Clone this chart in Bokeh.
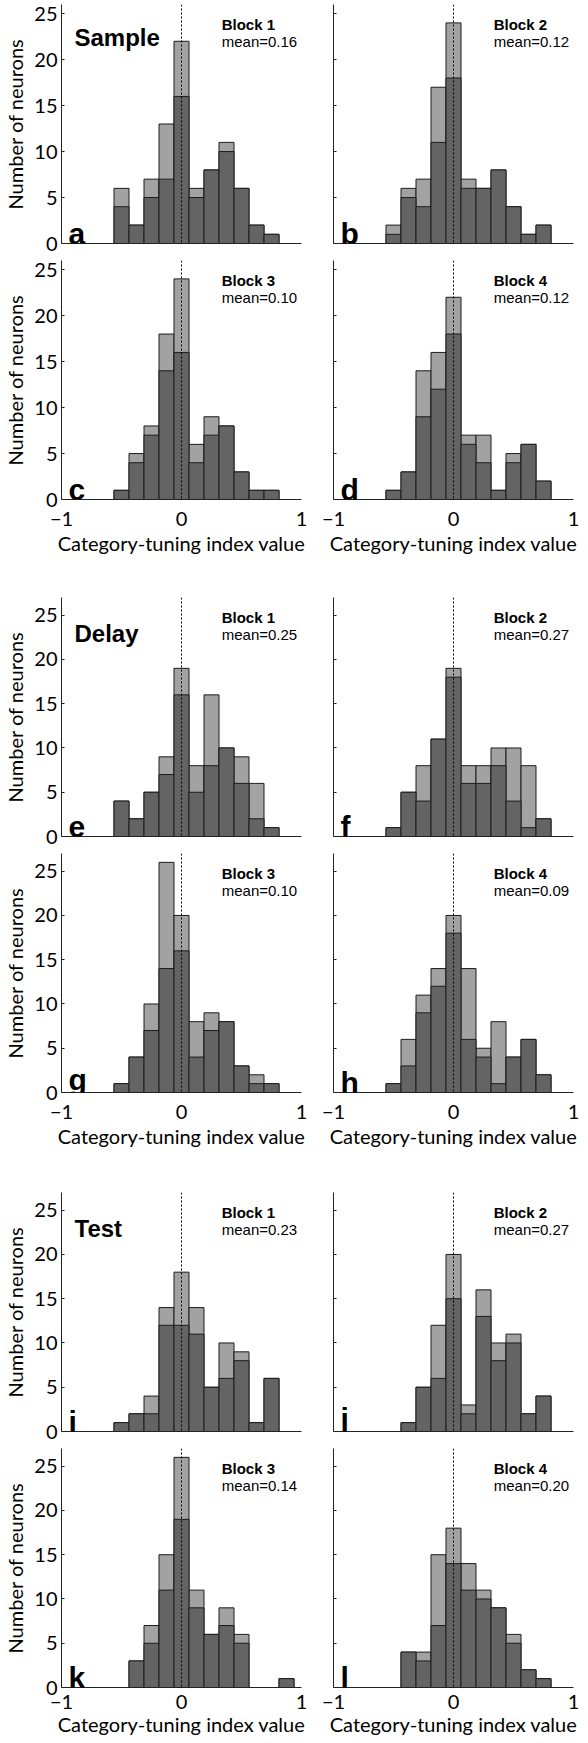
from bokeh.plotting import figure
from bokeh.models import Label, Span, FixedTicker
from bokeh.layouts import column, row
from bokeh.embed import file_html
from bokeh.resources import INLINE

# ---------------- data ----------------
bin_centers = [-0.5, -0.375, -0.25, -0.125, 0.0, 0.125, 0.25, 0.375, 0.5, 0.625, 0.75, 0.875]
bin_width = 0.125

# Sample epoch
sample_b1_all = [6, 2, 7, 13, 22, 6, 8, 11, 6, 2, 1, 0]
sample_b1_sub = [4, 2, 5, 7, 16, 5, 8, 10, 6, 2, 1, 0]
sample_b2_all = [2, 6, 7, 17, 24, 7, 6, 8, 4, 1, 2, 0]
sample_b2_sub = [1, 5, 4, 11, 18, 6, 6, 8, 4, 1, 2, 0]
sample_b3_all = [1, 5, 8, 18, 24, 6, 9, 8, 3, 1, 1, 0]
sample_b3_sub = [1, 4, 7, 14, 16, 4, 7, 8, 3, 1, 1, 0]
sample_b4_all = [1, 3, 14, 16, 22, 7, 7, 1, 5, 6, 2, 0]
sample_b4_sub = [1, 3, 9, 12, 18, 6, 4, 1, 4, 6, 2, 0]

# Delay epoch
delay_b1_all = [4, 2, 5, 9, 19, 8, 16, 10, 9, 6, 1, 0]
delay_b1_sub = [4, 2, 5, 7, 16, 5, 8, 10, 6, 2, 1, 0]
delay_b2_all = [1, 5, 8, 11, 19, 8, 8, 10, 10, 8, 2, 0]
delay_b2_sub = [1, 5, 4, 11, 18, 6, 6, 8, 4, 1, 2, 0]
delay_b3_all = [1, 4, 10, 26, 20, 8, 9, 8, 3, 2, 1, 0]
delay_b3_sub = [1, 4, 7, 14, 16, 4, 7, 8, 3, 1, 1, 0]
delay_b4_all = [1, 6, 11, 14, 20, 14, 5, 8, 4, 6, 2, 0]
delay_b4_sub = [1, 3, 9, 12, 18, 6, 4, 1, 4, 6, 2, 0]

# Test epoch
test_b1_all = [1, 2, 4, 14, 18, 14, 5, 10, 9, 1, 6, 0]
test_b1_sub = [1, 2, 2, 12, 12, 11, 5, 6, 8, 1, 6, 0]
test_b2_all = [0, 1, 5, 12, 20, 3, 16, 10, 11, 2, 4, 0]
test_b2_sub = [0, 1, 5, 6, 15, 2, 13, 8, 10, 2, 4, 0]
test_b3_all = [0, 3, 7, 15, 26, 11, 6, 9, 6, 0, 0, 1]
test_b3_sub = [0, 3, 5, 11, 19, 9, 6, 7, 5, 0, 0, 1]
test_b4_all = [0, 4, 4, 15, 18, 14, 11, 9, 6, 2, 1, 0]
test_b4_sub = [0, 4, 3, 7, 14, 11, 10, 9, 5, 2, 1, 0]

panel_letters = ["a", "b", "c", "d", "e", "f", "g", "h", "i", "j", "k", "l"]
block_labels = ["Block 1", "Block 2", "Block 3", "Block 4"]
mean_labels = ["mean=0.16", "mean=0.12", "mean=0.10", "mean=0.12",
               "mean=0.25", "mean=0.27", "mean=0.10", "mean=0.09",
               "mean=0.23", "mean=0.27", "mean=0.14", "mean=0.20"]
epoch_titles = ["Sample", "Delay", "Test"]
epoch_ymax = [26, 27, 27]
y_ticks = [0, 5, 10, 15, 20, 25]
x_ticks = [-1, 0, 1]
y_label = "Number of neurons"
x_label = "Category-tuning index value"

all_series = [sample_b1_all, sample_b2_all, sample_b3_all, sample_b4_all,
              delay_b1_all, delay_b2_all, delay_b3_all, delay_b4_all,
              test_b1_all, test_b2_all, test_b3_all, test_b4_all]
sub_series = [sample_b1_sub, sample_b2_sub, sample_b3_sub, sample_b4_sub,
              delay_b1_sub, delay_b2_sub, delay_b3_sub, delay_b4_sub,
              test_b1_sub, test_b2_sub, test_b3_sub, test_b4_sub]

# ---------------- style ----------------
LIGHT = "#a2a2a2"
DARK = "#646464"
EDGE = "#1c1c1c"
AXIS = "#222222"
TICK_FONT = "Lato"
TEXT_FONT = "Liberation Sans"
FRAME_W = 240
FRAME_H = 239

row_top_borders = [4, 6, 40, 6, 42, 6]
row_bottom_borders = [11, 55, 11, 55, 11, 45]
row_tick_standoff = [0, 12, 0, 12, 0, 7]
row_label_standoff = [0, 2, 0, 2, 0, 0]


def make_panel(idx):
    r = idx // 2
    is_left = idx % 2 == 0
    is_bottom = r % 2 == 1
    epoch = r // 2
    ymax = epoch_ymax[epoch]

    p = figure(frame_width=FRAME_W, frame_height=FRAME_H,
               x_range=(-1, 1), y_range=(0, ymax),
               output_backend="svg", toolbar_location=None,
               min_border_left=54 if is_left else 16,
               min_border_right=16 if is_left else 6,
               min_border_top=row_top_borders[r],
               min_border_bottom=row_bottom_borders[r])
    p.outline_line_color = None
    p.grid.visible = False
    p.background_fill_color = "white"
    p.border_fill_color = "white"

    # bars: totals (light) then subset (dark) on top
    p.vbar(x=bin_centers, width=bin_width, top=all_series[idx], bottom=0,
           fill_color=LIGHT, line_color=EDGE, line_width=1)
    p.vbar(x=bin_centers, width=bin_width, top=sub_series[idx], bottom=0,
           fill_color=DARK, line_color=EDGE, line_width=1)

    p.add_layout(Span(location=0, dimension="height", line_color="black",
                      line_width=1, line_dash="2 2"))

    # y axis
    ya = p.yaxis[0]
    ya.ticker = FixedTicker(ticks=y_ticks)
    ya.minor_tick_line_color = None
    ya.major_tick_in = 3
    ya.major_tick_out = 0
    ya.axis_line_color = AXIS
    ya.major_tick_line_color = AXIS
    if is_left:
        ya.axis_label = y_label
        ya.axis_label_text_font = TICK_FONT
        ya.axis_label_text_font_size = "20px"
        ya.axis_label_text_font_style = "normal"
        ya.axis_label_text_color = "black"
        ya.axis_label_standoff = 4
        ya.major_label_text_font = TICK_FONT
        ya.major_label_text_font_size = "20px"
        ya.major_label_text_color = "black"
        ya.major_label_standoff = 4
    else:
        ya.major_label_text_font_size = "0px"
        ya.major_label_overrides = {t: "" for t in y_ticks}
        ya.major_label_standoff = 0

    # x axis
    xa = p.xaxis[0]
    xa.minor_tick_line_color = None
    xa.major_tick_in = 0
    xa.major_tick_out = 0
    xa.axis_line_color = AXIS
    if is_bottom:
        xa.ticker = FixedTicker(ticks=x_ticks)
        xa.major_label_text_font = TICK_FONT
        xa.major_label_text_font_size = "20px"
        xa.major_label_text_color = "black"
        xa.major_label_standoff = row_tick_standoff[r]
        xa.axis_label = x_label
        xa.axis_label_text_font = TICK_FONT
        xa.axis_label_text_font_size = "20px"
        xa.axis_label_text_font_style = "normal"
        xa.axis_label_text_color = "black"
        xa.axis_label_standoff = row_label_standoff[r]
    else:
        xa.ticker = FixedTicker(ticks=[])
        xa.major_label_text_font_size = "0px"
        xa.major_label_standoff = 0

    def ypos_from_top(px):
        return ymax * (1 - px / FRAME_H)

    p.add_layout(Label(x=0.335, y=ypos_from_top(20), text=block_labels[idx % 4],
                       text_font=TEXT_FONT, text_font_style="bold",
                       text_font_size="15px", text_color="black",
                       text_baseline="alphabetic"))
    p.add_layout(Label(x=0.335, y=ypos_from_top(37), text=mean_labels[idx],
                       text_font=TEXT_FONT, text_font_size="15px",
                       text_color="black", text_baseline="alphabetic"))
    letter = panel_letters[idx]
    letter_lift = 13 if letter in ("g", "j") else 10
    p.add_layout(Label(x=-1 + 7 / 120, y=ymax * letter_lift / FRAME_H, text=letter,
                       text_font=TEXT_FONT, text_font_style="bold",
                       text_font_size="30px", text_color="black",
                       text_baseline="alphabetic"))
    if idx % 4 == 0:
        p.add_layout(Label(x=-1 + 13 / 120, y=ypos_from_top(33 if epoch == 0 else 36),
                           text=epoch_titles[epoch],
                           text_font=TEXT_FONT, text_font_style="bold",
                           text_font_size="24px", text_color="black",
                           text_baseline="alphabetic"))
    return p


panels = [make_panel(i) for i in range(12)]
layout = column(*[row(panels[2 * r], panels[2 * r + 1]) for r in range(6)])

open("out.html", "w").write(file_html(layout, INLINE))
